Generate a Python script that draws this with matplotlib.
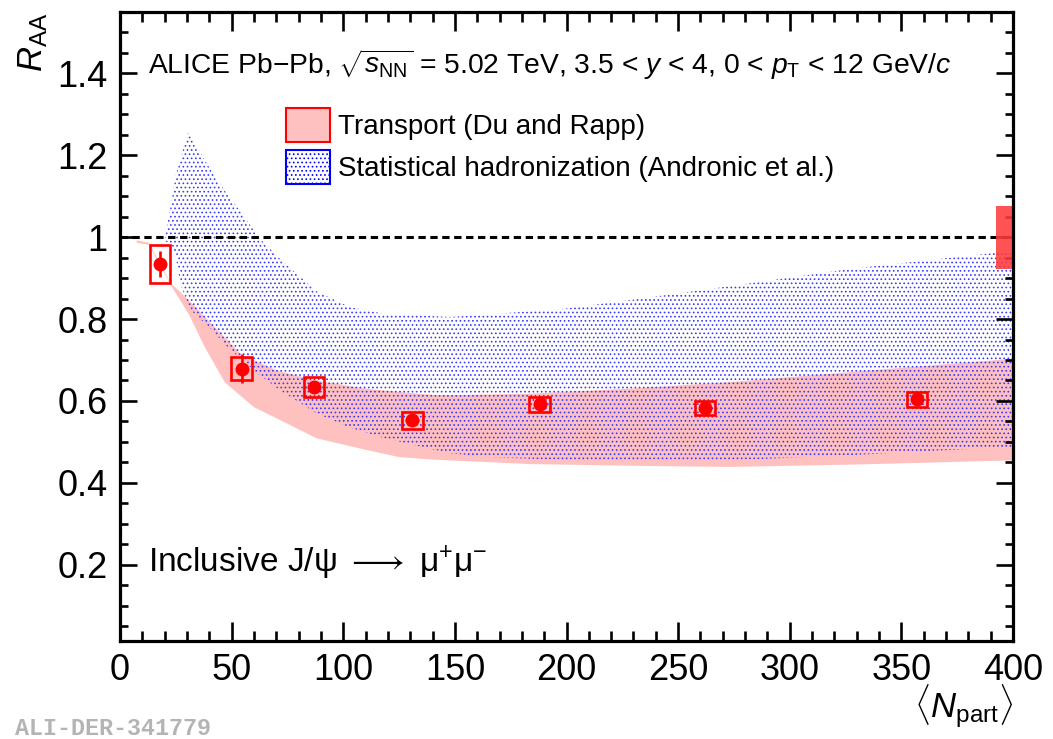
import matplotlib
matplotlib.use("Agg")
import matplotlib.pyplot as plt
from matplotlib.patches import Rectangle, Patch
from matplotlib.ticker import MultipleLocator, FuncFormatter

# ---------------- data ----------------
npart = [18, 54.5, 87, 131, 188, 262, 357]
raa = [0.935, 0.679, 0.634, 0.553, 0.592, 0.583, 0.604]
stat_err = [0.032, 0.035, 0.015, 0.012, 0.020, 0.010, 0.010]
syst_err = [0.046, 0.028, 0.024, 0.021, 0.018, 0.018, 0.018]
global_unc = 0.077

# Transport model (Du and Rapp) band
trans_x = [7.5, 13, 22.5, 31, 38, 47, 55, 60, 70, 88, 110, 125, 140, 148, 184, 228, 273, 330, 400]
trans_lo = [0.986, 0.981, 0.885, 0.810, 0.731, 0.645, 0.608, 0.585, 0.558, 0.509, 0.481, 0.463, 0.457,
            0.455, 0.446, 0.442, 0.439, 0.445, 0.455]
trans_hi = [0.992, 0.986, 0.889, 0.845, 0.805, 0.755, 0.710, 0.700, 0.675, 0.650, 0.630, 0.622, 0.615,
            0.614, 0.618, 0.630, 0.646, 0.672, 0.703]

# Statistical hadronization (Andronic et al.) band
shm_x = [20, 23, 25, 27, 30.6, 32, 38, 40, 48.5, 51.5, 55, 62, 72, 88, 103, 118, 148, 169, 199, 228,
         273, 328, 388, 400]
shm_lo = [0.990, 0.984, 0.950, 0.886, 0.835, 0.820, 0.790, 0.780, 0.730, 0.715, 0.700, 0.665, 0.625,
          0.570, 0.535, 0.510, 0.472, 0.462, 0.456, 0.455, 0.455, 0.468, 0.485, 0.488]
shm_hi = [0.995, 1.085, 1.150, 1.190, 1.256, 1.245, 1.187, 1.170, 1.100, 1.080, 1.055, 1.000, 0.945,
          0.868, 0.829, 0.813, 0.805, 0.813, 0.825, 0.846, 0.880, 0.923, 0.959, 0.967]

x_ticks_major = 50
x_ticks_minor = 10
y_ticks_major = 0.2
y_ticks_minor = 0.05

# ---------------- style ----------------
plt.rcParams["font.family"] = ["Liberation Sans", "DejaVu Sans"]
plt.rcParams["mathtext.fontset"] = "custom"
plt.rcParams["mathtext.rm"] = "Liberation Sans"
plt.rcParams["mathtext.it"] = "Liberation Sans:italic"
plt.rcParams["mathtext.bf"] = "Liberation Sans:bold"
plt.rcParams["hatch.linewidth"] = 0.7

W, H = 1053, 739
fig = plt.figure(figsize=(W / 100, H / 100), dpi=100)
L, R, T, B = 120, 1013, 11.7, 640.7
ax = fig.add_axes([L / W, (H - B) / H, (R - L) / W, (B - T) / H])

pink = "#ffc0c0"
blue = "#3a3aff"

ax.fill_between(trans_x, trans_lo, trans_hi, facecolor=pink, edgecolor="none", lw=0, zorder=1)
ax.fill_between(shm_x, shm_lo, shm_hi, facecolor="none", edgecolor=blue, hatch="....", lw=0, zorder=1.2)

ax.axhline(1.0, color="black", lw=2.2, ls=(0, (2.4, 1.5)), zorder=1.3)

# global uncertainty box at right edge
ax.add_patch(Rectangle((400 - 7.6, 1 - global_unc), 15.2, 2 * global_unc,
                       facecolor="#ff3a3a", edgecolor="none", alpha=0.88, zorder=2))

# systematic boxes
for x, y, s in zip(npart, raa, syst_err):
    ax.add_patch(Rectangle((x - 4.6, y - s), 9.2, 2 * s, facecolor="none",
                           edgecolor="red", lw=1.9, zorder=3))

ax.errorbar(npart, raa, yerr=stat_err, fmt="o", color="red", ms=9, elinewidth=1.9,
            capsize=0, zorder=4)

ax.set_xlim(0, 400)
ax.set_ylim(0.015, 1.55)
ax.xaxis.set_major_locator(MultipleLocator(x_ticks_major))
ax.xaxis.set_minor_locator(MultipleLocator(x_ticks_minor))
ax.yaxis.set_major_locator(MultipleLocator(y_ticks_major))
ax.yaxis.set_minor_locator(MultipleLocator(y_ticks_minor))
fmt = FuncFormatter(lambda v, p: f"{v:g}")
ax.xaxis.set_major_formatter(fmt)
ax.yaxis.set_major_formatter(fmt)

for s in ax.spines.values():
    s.set_linewidth(2.3)
ax.tick_params(which="both", direction="in", top=True, right=True, width=1.9, labelsize=26)
ax.tick_params(axis="x", which="major", length=14, pad=9)
ax.tick_params(axis="x", which="minor", length=7)
ax.tick_params(axis="y", which="major", length=12, pad=9)
ax.tick_params(axis="y", which="minor", length=6)

# legend
handles = [Patch(facecolor=pink, edgecolor="red", lw=1.5),
           Patch(facecolor="white", edgecolor="blue", hatch="....", lw=1.5)]
labels = ["Transport (Du and Rapp)", "Statistical hadronization (Andronic et al.)"]
leg = ax.legend(handles, labels, loc="upper left", bbox_to_anchor=(286 / W, (H - 108) / H),
                bbox_transform=fig.transFigure, frameon=False, fontsize=20, handlelength=1.58,
                handleheight=1.5, labelspacing=0.3, handletextpad=0.3, borderpad=0, borderaxespad=0)

fig.text(148 / W, (H - 74) / H,
         r"ALICE Pb$-$Pb, $\sqrt{s_{\rm NN}}$ = 5.02 TeV, 3.5 < $y$ < 4, 0 < $p_{\rm T}$ < 12 GeV/$c$",
         fontsize=20.3, ha="left", va="baseline")
fig.text(148 / W, (H - 572) / H, r"Inclusive J/ψ $\longrightarrow$ μ$^{+}$μ$^{-}$", fontsize=24,
         ha="left", va="baseline")

fig.text(33 / W, (H - 13) / H, r"$R_{\rm AA}$", rotation=90, fontsize=25, ha="center", va="top")
fig.text(R / W, (H - 717) / H, r"$\langle N_{\rm part}\rangle$", fontsize=25, ha="right", va="baseline")

fig.text(15 / W, 4 / H, "ALI-DER-341779", family=["Liberation Mono", "DejaVu Sans Mono"],
         fontweight="bold", color="#b4b4b4", fontsize=16.8, ha="left", va="baseline")

fig.savefig("out.png", dpi=100)
